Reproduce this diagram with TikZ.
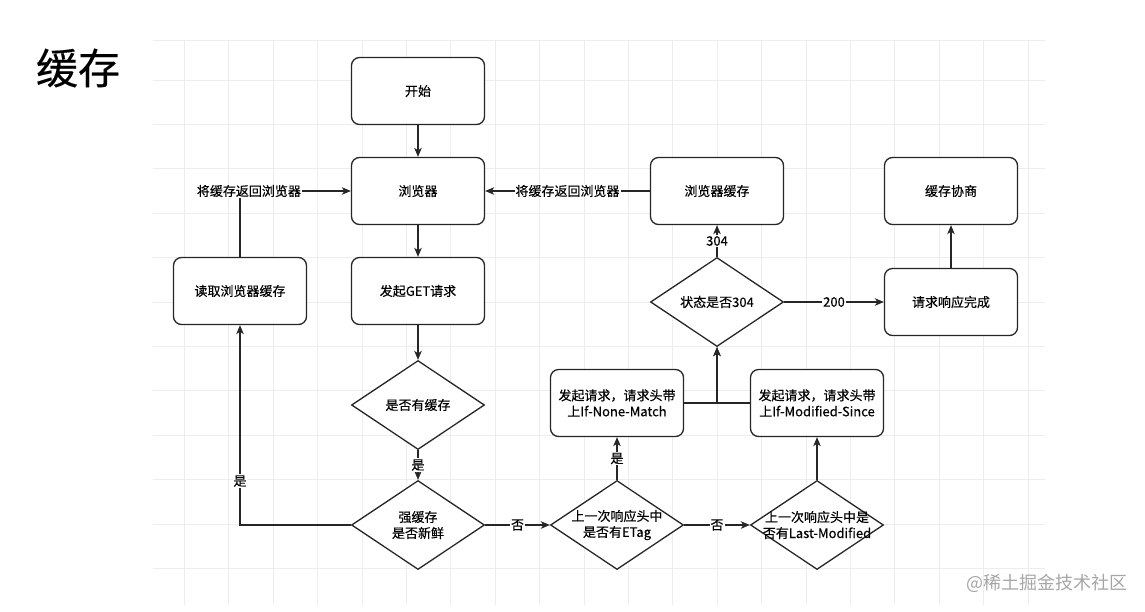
\documentclass[tikz,border=0pt]{standalone}
\usepackage{fontspec}
\setmainfont{Noto Sans CJK SC}
\newfontfamily\medfont{Noto Sans CJK SC}[FakeBold=0.35]
\usetikzlibrary{shapes.geometric,arrows.meta}

\begin{document}
\begin{tikzpicture}
  [x=1pt,y=-1pt,
   every node/.style={font=\medfont\fontsize{13}{16}\selectfont},
   box/.style={draw=black!85,line width=1.3pt,fill=white,rounded corners=8pt,
     minimum width=133pt,minimum height=67pt,align=center,inner sep=2pt},
   choice/.style={draw=black!85,line width=1.3pt,fill=white,diamond,
     minimum width=133pt,minimum height=89pt,inner sep=0pt},
   lbl/.style={fill=white,inner sep=1pt},
   link/.style={draw=black!85,line width=1.3pt,-{Stealth[length=9pt,width=7.5pt,inset=2.5pt]}},
   gridline/.style={black!7,line width=0.8pt}]
  \useasboundingbox (0,0) rectangle (1145,611);

  % grid of the canvas
  \foreach \x in {184.4,228.8,...,1030}
    \draw[gridline] (\x,40) -- (\x,605);
  \foreach \y in {40,80,124.4,...,602}
    \draw[gridline] (153,\y) -- (1045,\y);

  \node[font=\medfont\fontsize{42}{50}\selectfont] (title) at (78,68) {缓存};

  \node[box] (start) at (418,91)     {开始};
  \node[box] (browser) at (418,191)  {浏览器};
  \node[box] (get) at (418,291)      {发起GET请求};
  \node[choice,label={center:是否有缓存}] (has) at (418,405) {};
  \node[choice,label={[align=center]center:强缓存\\是否新鲜}] (fresh) at (418,525) {};
  \node[box] (read) at (240,291)     {读取浏览器缓存};
  \node[choice,label={[align=center]center:上一次响应头中\\是否有ETag}] (etag) at (617,525) {};
  \node[choice,label={[align=center]center:上一次响应头中是\\否有Last-Modified}] (lastmod) at (817,525) {};
  \node[box] (nonematch) at (617,403) {发起请求，请求头带\\上If-None-Match};
  \node[box] (modsince) at (817,403)  {发起请求，请求头带\\上If-Modified-Since};
  \node[choice,label={center:状态是否304}] (status) at (717,302) {};
  \node[box] (cached) at (717,191)   {浏览器缓存};
  \node[box] (done) at (951,302)     {请求响应完成};
  \node[box] (nego) at (951,191)     {缓存协商};

  \node[text=black!35,font=\fontsize{18}{20}\selectfont] (mark) at (1047,583) {@稀土掘金技术社区};

  \foreach \from/\to in {start/browser,browser/get,get/has,lastmod/modsince,done/nego}
    \draw[link] (\from) -- (\to);

  \draw[link] (has) -- node[lbl] {是} (fresh);
  \draw[link] (fresh) -- node[lbl] {否} (etag);
  \draw[link] (etag) -- node[lbl] {是} (nonematch);
  \draw[link] (etag) -- node[lbl] {否} (lastmod);
  \draw[link] (status) -- node[lbl] {304} (cached);
  \draw[link] (status) -- node[lbl] {200} (done);
  \draw[link] (cached) -- node[lbl] {将缓存返回浏览器} (browser);
  \draw[link] (fresh.west) -| node[lbl,pos=0.61] {是} (read);
  \draw[link] (read) |- node[lbl,pos=0.54] {将缓存返回浏览器} (browser);
  \draw[link] (nonematch) -| (status);
  \draw[link] (modsince) -| (status);
\end{tikzpicture}
\end{document}
